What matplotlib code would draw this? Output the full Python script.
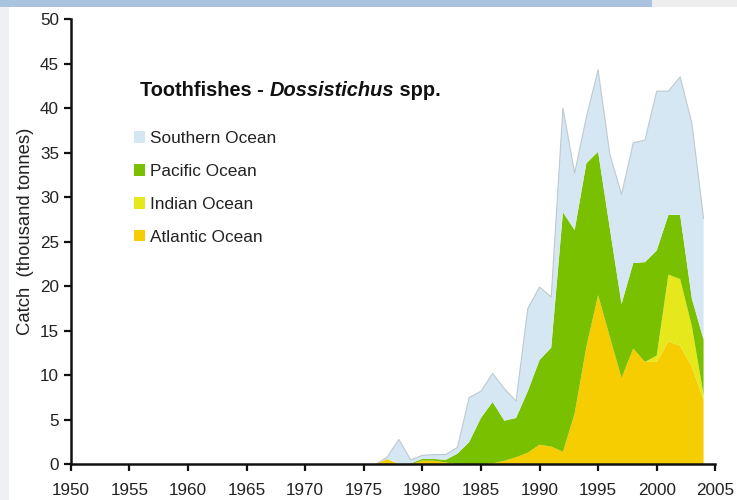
import numpy as np
import matplotlib
matplotlib.use('Agg')
from matplotlib import pyplot as plt
from matplotlib.patches import Rectangle
from matplotlib.offsetbox import TextArea, HPacker, AnchoredOffsetbox

plt.rcParams['font.family'] = ['Liberation Sans', 'DejaVu Sans']

# catch by ocean, thousand tonnes
years = list(range(1976, 2005))
atlantic = [0, 0.6, 0, 0, 0.4, 0.4, 0.2, 0, 0, 0, 0.1, 0.4, 0.8, 1.3, 2.2, 2.0,
            1.4, 5.7, 13.2, 19.0, 14.3, 9.7, 13.0, 11.5, 11.5, 13.8, 13.3, 11.0, 7.2]
indian = [0, 0, 0, 0, 0, 0, 0, 0, 0, 0, 0, 0, 0, 0, 0, 0,
          0, 0, 0, 0, 0, 0, 0, 0, 0.7, 7.5, 7.5, 4.5, 0.6]
pacific = [0, 0, 0, 0.1, 0.2, 0.2, 0.3, 1.2, 2.5, 5.2, 6.9, 4.5, 4.4, 6.9, 9.5, 11.1,
           26.9, 20.6, 20.6, 16.1, 12.2, 8.3, 9.6, 11.2, 11.8, 6.7, 7.2, 3.1, 6.2]
southern = [0, 0.2, 2.8, 0.4, 0.4, 0.5, 0.6, 0.7, 5.0, 3.0, 3.2, 3.6, 1.9, 9.3, 8.2, 5.7,
            11.7, 6.4, 5.2, 9.2, 8.3, 12.3, 13.5, 13.7, 17.9, 13.9, 15.5, 19.7, 13.6]

labels = ['Atlantic Ocean', 'Indian Ocean', 'Pacific Ocean', 'Southern Ocean']
colors = ['#f6cd00', '#e6e81c', '#78c000', '#d5e7f2']

fig = plt.figure(figsize=(7.37, 5), dpi=100)
ax = fig.add_axes([70.7 / 737, 1 - 464.3 / 500, (715.3 - 70.7) / 737, (464.3 - 19) / 500])

ax.stackplot(years, atlantic, indian, pacific, southern,
             colors=colors, labels=labels, linewidth=0)
# thin grey outline on the top of the stack
total = np.array(atlantic) + np.array(indian) + np.array(pacific) + np.array(southern)
ax.plot(years, total, color='#bfc9d0', lw=0.8)

ax.set_xlim(1950, 2005)
ax.set_ylim(0, 50)
ax.set_xticks(range(1950, 2006, 5))
ax.set_yticks(range(0, 51, 5))
for s in ['top', 'right']:
    ax.spines[s].set_visible(False)
for s in ['left', 'bottom']:
    ax.spines[s].set_linewidth(1.8)
    ax.spines[s].set_color('#111111')
ax.tick_params(direction='out', length=5, width=1.6, labelsize=12.3, colors='#111111',
               labelcolor='#222222')
ax.tick_params(axis='x', pad=8.5)
ax.set_ylabel('Catch  (thousand tonnes)', fontsize=13.3, color='#222222')
ax.yaxis.set_label_coords(-0.057, 0.524)

# legend, reversed so Southern is on top
h, l = ax.get_legend_handles_labels()
fig.legend(h[::-1], l[::-1], loc='upper left', bbox_to_anchor=(134 / 737, 1 - 131 / 500),
           frameon=False, fontsize=12.4, handlelength=0.65, handleheight=0.65,
           handletextpad=0.25, labelspacing=1.04, borderpad=0, borderaxespad=0,
           labelcolor='#222222')

# title with italic genus name
t1 = TextArea('Toothfishes - ', textprops=dict(fontsize=14.4, fontweight='bold', color='#111111'))
t2 = TextArea('Dossistichus', textprops=dict(fontsize=14.4, fontweight='bold', style='italic',
                                              color='#111111'))
t3 = TextArea(' spp.', textprops=dict(fontsize=14.4, fontweight='bold', color='#111111'))
box = HPacker(children=[t1, t2, t3], pad=0, sep=0)
fig.add_artist(AnchoredOffsetbox(loc='center left', child=box, pad=0, borderpad=0, frameon=False,
                                 bbox_to_anchor=(140 / 737, 1 - 91 / 500),
                                 bbox_transform=fig.transFigure))

# slide banner along the top and faint strip at the left
fig.add_artist(Rectangle((0, 1 - 7 / 500), 652 / 737, 7 / 500, transform=fig.transFigure,
                         color='#a9c3e0', lw=0))
fig.add_artist(Rectangle((652 / 737, 1 - 7 / 500), 85 / 737, 7 / 500, transform=fig.transFigure,
                         color='#eeeeee', lw=0))
fig.add_artist(Rectangle((0, 0), 9 / 737, 1 - 7 / 500, transform=fig.transFigure,
                         color='#eef0f3', lw=0))

fig.savefig('out.png', dpi=100)
